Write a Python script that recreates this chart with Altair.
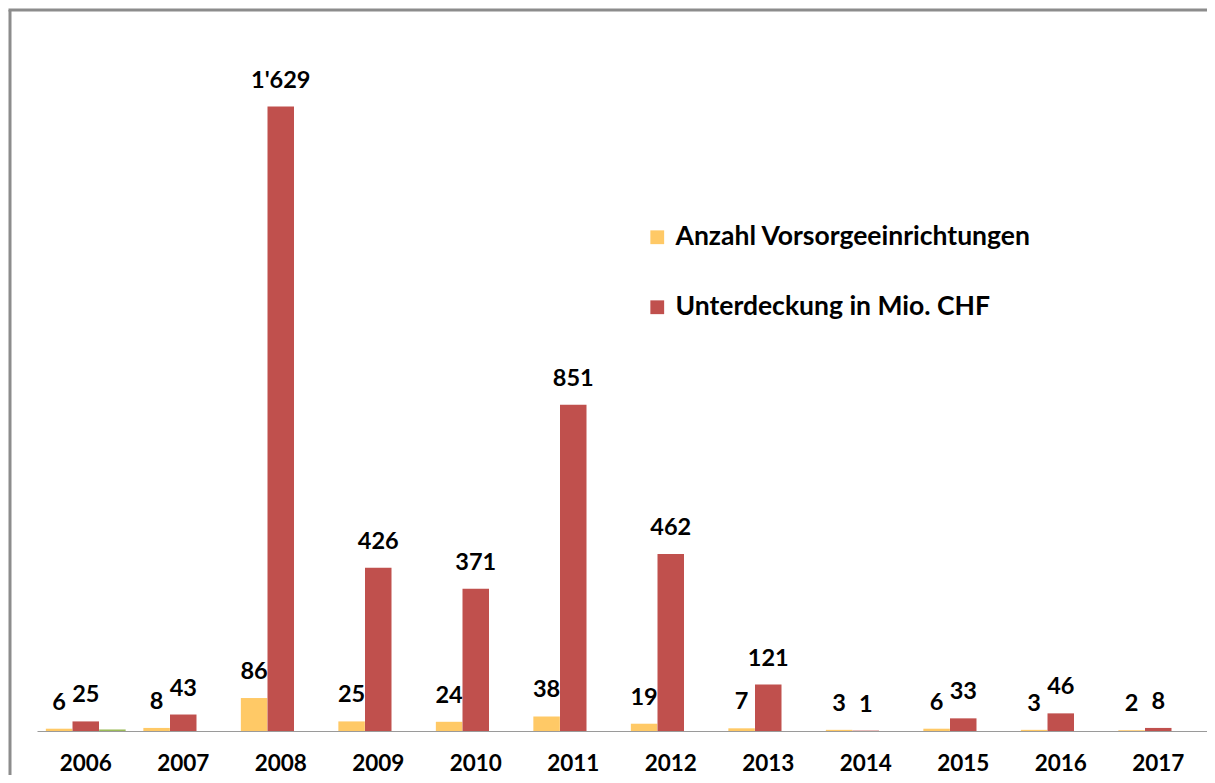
import altair as alt
import pandas as pd

years = [str(y) for y in range(2006, 2018)]
anzahl = [6, 8, 86, 25, 24, 38, 19, 7, 3, 6, 3, 2]
unterdeckung = [25, 43, 1629, 426, 371, 851, 462, 121, 1, 33, 46, 8]
weitere = [4, 0, 0, 0, 0, 0, 0, 0, 0, 0, 0, 0]
series_names = ["Anzahl Vorsorgeeinrichtungen", "Unterdeckung in Mio. CHF", "Weitere"]
colors = ["#FFC966", "#C0504D", "#9BBB59"]

rows = []
for i, y in enumerate(years):
    for name, vals in zip(series_names, [anzahl, unterdeckung, weitere]):
        v = vals[i]
        rows.append({"Jahr": y, "Serie": name, "Wert": v,
                     "Label": f"{v:,}".replace(",", "'")})
df = pd.DataFrame(rows)

FONT = "Lato"

x_enc = alt.X("Jahr:N", sort=years,
              scale=alt.Scale(paddingInner=0.18, paddingOuter=0.09),
              axis=alt.Axis(title=None, labelAngle=0, ticks=False,
                            labelFont=FONT, labelFontSize=22.5, labelFontWeight="bold",
                            labelColor="#000000", labelPadding=21,
                            domainColor="#9a9a9a", domainWidth=1.2))
xoff = alt.XOffset("Serie:N", sort=series_names,
                   scale=alt.Scale(domain=series_names, paddingInner=0, paddingOuter=0))
y_enc = alt.Y("Wert:Q", scale=alt.Scale(domain=[0, 1800]), axis=None)

base = alt.Chart(df)

bars = base.mark_bar(size=26.5).encode(
    x=x_enc, xOffset=xoff, y=y_enc,
    color=alt.Color("Serie:N",
                    scale=alt.Scale(domain=series_names, range=colors),
                    legend=alt.Legend(title=None, values=series_names[:2],
                                      orient="none", legendX=607, legendY=183,
                                      symbolType="square", symbolSize=190,
                                      symbolStrokeWidth=0, symbolOpacity=1,
                                      labelFont=FONT, labelFontSize=26.5,
                                      labelFontWeight="bold", labelColor="#000000",
                                      labelOffset=5, rowPadding=43,
                                      labelLimit=600)),
)

labels = base.transform_filter(
    alt.datum.Serie != "Weitere"
).mark_text(font=FONT, fontSize=23.5, fontWeight="bold", color="#000000",
            baseline="middle", dy=-26).encode(
    x=x_enc, xOffset=xoff, y=y_enc, text="Label:N"
)

frame_df = pd.DataFrame({"a": [0]})
frame_left = alt.Chart(frame_df).mark_rule(color="#8c8c8c", strokeWidth=3).encode(
    x=alt.value(-27), y=alt.value(-31), y2=alt.value(800)
)
frame_top = alt.Chart(frame_df).mark_rule(color="#8c8c8c", strokeWidth=3).encode(
    x=alt.value(-28.5), x2=alt.value(1300), y=alt.value(-31)
)

chart = alt.layer(frame_left, frame_top, bars, labels).properties(
    width=1170, height=690,
    autosize=alt.AutoSizeParams(type="none"),
    padding={"left": 29, "top": 33, "right": 0, "bottom": 44},
    background="#ffffff",
).configure_view(stroke=None)

chart.save("out.html", embed_options={"renderer": "svg", "actions": False})
